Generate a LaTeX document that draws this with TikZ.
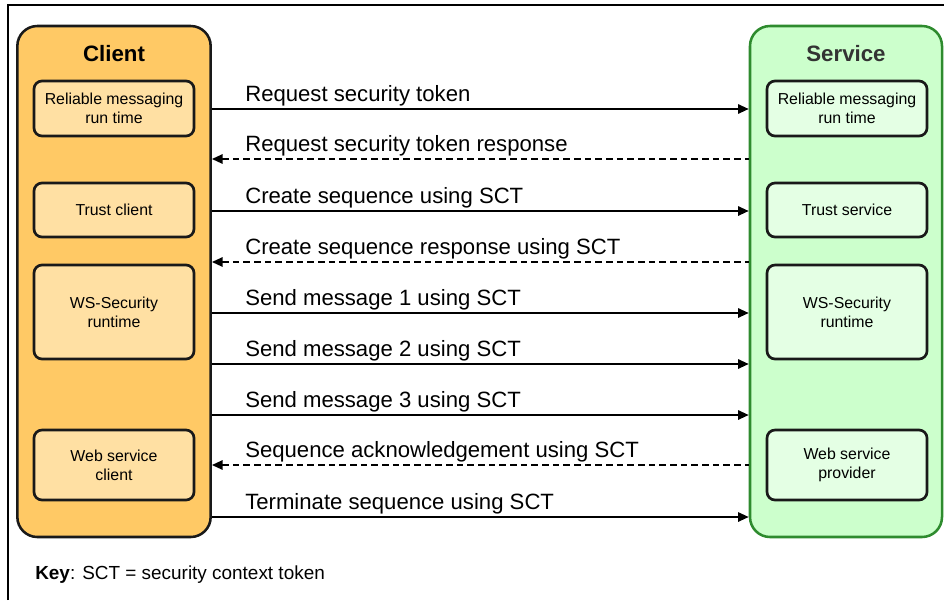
\documentclass[tikz,border=0pt]{standalone}
\usepackage{fontspec}
\setmainfont{Liberation Sans}
\usetikzlibrary{arrows.meta}
\definecolor{clorange}{HTML}{FFC965}
\definecolor{cllight}{HTML}{FFE0A3}
\definecolor{svgreen}{HTML}{CCFFCC}
\definecolor{svlight}{HTML}{E4FFE4}
\definecolor{svborder}{HTML}{2E8B2E}
\tikzset{
  side/.style={draw,line width=1.9pt,rounded corners=15pt,
               minimum width=145pt,minimum height=383.25pt},
  part/.style={draw=black!90,line width=2pt,rounded corners=6pt,
               minimum width=120pt,align=center,inner sep=2pt,
               font=\fontsize{11.9}{14.3}\selectfont},
  msgto/.style={line width=1.4pt,-{Triangle[length=8pt,width=7pt]}},
  msgback/.style={line width=1.4pt,dash pattern=on 5pt off 3pt,
                  {Triangle[length=8pt,width=7pt]}-},
  msglabel/.style={anchor=base west,inner sep=0pt,
                   font=\fontsize{16.6}{20}\selectfont}
}

\begin{document}
\begin{tikzpicture}[x=0.75pt,y=-0.75pt]
    \useasboundingbox (0,0) rectangle (944,600);
    \draw[line width=0.8pt] (8,600) -- (8,5) -- (944,5);
    % client side
    \node[side,fill=clorange,draw=black!90] (client) at (114,281.5){};
    \node[font=\fontsize{16.7}{20}\selectfont\bfseries] (clienttitle) at (114,54){Client};
    \node[part,fill=cllight,minimum height=41.25pt] (clrm) at (114,108.5){Reliable messaging\\run time};
    \node[part,fill=cllight,minimum height=40.5pt] (cltrust) at (114,210){Trust client};
    \node[part,fill=cllight,minimum height=70.5pt] (clsec) at (114,312){WS-Security\\runtime};
    \node[part,fill=cllight,minimum height=52.5pt] (clweb) at (114,465){Web service\\client};
    % service side
    \node[side,fill=svgreen,draw=svborder,minimum width=144pt] (service) at (846,281.5){};
    \node[font=\fontsize{16.7}{20}\selectfont\bfseries,black!80] (servicetitle) at (846,54){Service};
    \node[part,fill=svlight,minimum height=41.25pt] (svrm) at (847,108.5){Reliable messaging\\run time};
    \node[part,fill=svlight,minimum height=40.5pt] (svtrust) at (847,210){Trust service};
    \node[part,fill=svlight,minimum height=70.5pt] (svsec) at (847,312){WS-Security\\runtime};
    \node[part,fill=svlight,minimum height=52.5pt] (svweb) at (847,465){Web service\\provider};
    % messages
    \foreach \y/\sty/\txt in {109/msgto/Request security token,
                              159/msgback/Request security token response,
                              211/msgto/Create sequence using SCT,
                              262/msgback/Create sequence response using SCT,
                              313/msgto/Send message 1 using SCT,
                              364/msgto/Send message 2 using SCT,
                              415/msgto/Send message 3 using SCT,
                              465/msgback/Sequence acknowledgement using SCT,
                              517/msgto/Terminate sequence using SCT}{
      \draw[\sty] (client.east |- 0,\y) -- (service.west |- 0,\y);
      \node[msglabel] at (245,\y-8){\txt};
    }
    % key
    \node[anchor=base west,inner sep=0pt,font=\fontsize{14.2}{17}\selectfont] (key) at (35,579){\textbf{Key}: SCT = security context token};
\end{tikzpicture}
\end{document}
